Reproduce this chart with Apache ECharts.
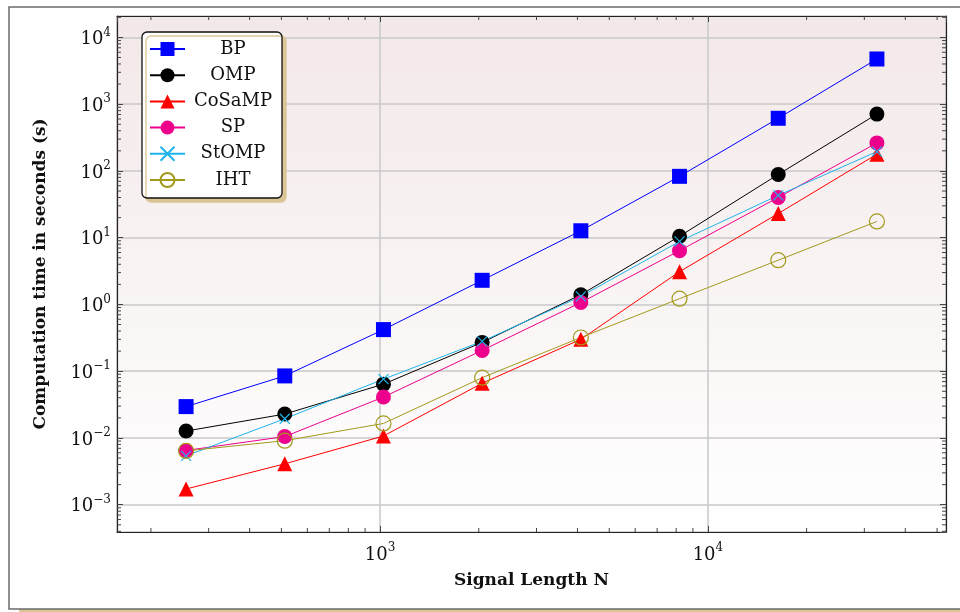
<!DOCTYPE html>
<html>
<head>
<meta charset="utf-8">
<script src="https://cdn.jsdelivr.net/npm/echarts@6/dist/echarts.min.js"></script>
<style>
html,body{margin:0;padding:0;background:#fff;}
#chart{width:960px;height:612px;}
</style>
</head>
<body>
<div id="chart"></div>
<script>
// ---- data ----
const signalLength = [256, 512, 1024, 2048, 4096, 8192, 16384, 32768];
const seriesNames = ['BP', 'OMP', 'CoSaMP', 'SP', 'StOMP', 'IHT'];
const bpTime     = [0.0295, 0.085, 0.42, 2.3, 12.7, 83, 615, 4750];
const ompTime    = [0.0127, 0.0228, 0.064, 0.27, 1.40, 10.5, 88.5, 710];
const cosampTime = [0.00172, 0.0041, 0.0107, 0.066, 0.30, 3.1, 23, 178];
const spTime     = [0.0065, 0.0105, 0.041, 0.205, 1.07, 6.4, 40, 263];
const stompTime  = [0.0054, 0.0194, 0.076, 0.28, 1.32, 8.8, 43, 195];
const ihtTime    = [0.0064, 0.0091, 0.0165, 0.08, 0.32, 1.22, 4.6, 17.5];
const xDecades = [2, 3, 4];      // minor ticks 2..9 x 10^k
const yDecades = [-4, -3, -2, -1, 0, 1, 2, 3, 4];

const FONT = 'DejaVu Serif';
const allTimes = [bpTime, ompTime, cosampTime, spTime, stompTime, ihtTime];

// axis limits: 10% enlargement in log space (pgfplots style)
function enlarged(vals) {
  const lo = Math.log10(Math.min.apply(null, vals));
  const hi = Math.log10(Math.max.apply(null, vals));
  const d = (hi - lo) * 0.1;
  return [Math.pow(10, lo - d), Math.pow(10, hi + d)];
}
const xLim = enlarged(signalLength);
const yLim = enlarged([].concat.apply([], allTimes));

function minorTicks(decades, lim) {
  const out = [];
  decades.forEach(function (k) {
    for (let m = 2; m <= 9; m++) {
      const v = m * Math.pow(10, k);
      if (v > lim[0] && v < lim[1]) out.push(v);
    }
  });
  return out;
}
const xMinor = minorTicks(xDecades, xLim);
const yMinor = minorTicks(yDecades, yLim);

function pairs(ys) { return signalLength.map(function (x, i) { return [x, ys[i]]; }); }

function expLabel(v) {
  const e = Math.log10(v);
  const r = Math.round(e);
  if (Math.abs(e - r) > 1e-6) return '';
  return '{b|10}{s|' + String(r).replace('-', '\u2212') + '}';
}
const labelRich = {
  b: { fontFamily: FONT, fontSize: 18, color: '#111', lineHeight: 22, verticalAlign: 'bottom' },
  s: { fontFamily: FONT, fontSize: 12, color: '#111', lineHeight: 12, verticalAlign: 'top' }
};

const chart = echarts.init(document.getElementById('chart'), null, { renderer: 'canvas' });

const axisLineStyle = { color: '#222', width: 1.2 };
const gridSplit = { show: true, lineStyle: { color: '#c9c9c9', width: 1.5 } };

const styles = {
  BP:     { color: '#0000ff', symbol: 'rect', size: 15 },
  OMP:    { color: '#000000', symbol: 'circle', size: 15 },
  CoSaMP: { color: '#ff0000', symbol: 'triangle', size: 15 },
  SP:     { color: '#ec008c', symbol: 'circle', size: 15 },
  StOMP:  { color: '#1fb4ec', symbol: 'path://M0,0L10,10M10,0L0,10', size: 10 },
  IHT:    { color: '#a39a1c', symbol: 'circle', size: 15, hollow: true }
};

const lineSeries = seriesNames.map(function (name, i) {
  const st = styles[name];
  const itemStyle = st.hollow
    ? { color: 'rgba(0,0,0,0)', borderColor: st.color, borderWidth: 1.2 }
    : (name === 'StOMP'
        ? { color: st.color, borderColor: st.color, borderWidth: 1.2 }
        : { color: st.color, borderWidth: 0 });
  return {
    name: name,
    type: 'line',
    xAxisIndex: 0, yAxisIndex: 0,
    data: pairs(allTimes[i]),
    symbol: st.symbol,
    symbolSize: st.size,
    showAllSymbol: true,
    color: st.color,
    lineStyle: { color: st.color, width: 1 },
    itemStyle: itemStyle,
    emphasis: { disabled: true },
    animation: false,
    z: 3
  };
});

function tickSeries(vals, isX, len) {
  return {
    type: 'custom',
    xAxisIndex: 0, yAxisIndex: 0,
    silent: true,
    animation: false,
    clip: false,
    z: 4,
    data: vals.map(function (v) { return isX ? [v, yLim[0] * 1.0001] : [xLim[0] * 1.0001, v]; }),
    renderItem: function (params, api) {
      const cs = params.coordSys;
      const p = api.coord([api.value(0), api.value(1)]);
      const st = { stroke: '#444', lineWidth: 1 };
      if (isX) {
        return { type: 'group', children: [
          { type: 'line', shape: { x1: p[0], y1: cs.y + cs.height, x2: p[0], y2: cs.y + cs.height - len }, style: st },
          { type: 'line', shape: { x1: p[0], y1: cs.y, x2: p[0], y2: cs.y + len }, style: st }
        ]};
      }
      return { type: 'group', children: [
        { type: 'line', shape: { x1: cs.x, y1: p[1], x2: cs.x + len, y2: p[1] }, style: st },
        { type: 'line', shape: { x1: cs.x + cs.width, y1: p[1], x2: cs.x + cs.width - len, y2: p[1] }, style: st }
      ]};
    }
  };
}

const option = {
  backgroundColor: 'rgba(0,0,0,0)',
  animation: false,
  graphic: [
    { type: 'rect', z: -10, shape: { x: 19, y: 10, width: 960, height: 602 }, style: { fill: '#dcc594' }, silent: true },
    { type: 'rect', z: -9, shape: { x: 9, y: 7, width: 960, height: 602 }, style: { fill: '#ffffff', stroke: '#6a6a6a', lineWidth: 1.5 }, silent: true }
  ],
  grid: {
    left: 117, right: 14, top: 16, bottom: 80,
    show: true,
    borderWidth: 0,
    backgroundColor: { type: 'linear', x: 0, y: 0, x2: 0, y2: 1,
      colorStops: [{ offset: 0, color: '#f3e8e8' }, { offset: 1, color: '#ffffff' }] }
  },
  legend: {
    data: seriesNames,
    orient: 'vertical',
    left: 142, top: 32,
    padding: [8, 6, 9, 7],
    itemWidth: 35, itemHeight: 17.5,
    itemGap: 8.2,
    itemTextGap: 5,
    backgroundColor: '#ffffff',
    borderColor: '#111',
    borderWidth: 1.3,
    borderRadius: 5,
    shadowColor: '#dcc594',
    shadowBlur: 0,
    shadowOffsetX: 4,
    shadowOffsetY: 4,
    selectedMode: false,
    formatter: function (n) { return '{t|' + n + '}'; },
    textStyle: {
      rich: { t: { fontFamily: FONT, fontSize: 18, color: '#111', width: 86, align: 'center', lineHeight: 20 } }
    }
  },
  xAxis: [
    {
      type: 'log', logBase: 10, position: 'bottom',
      min: xLim[0], max: xLim[1],
      name: 'Signal Length N', nameLocation: 'middle', nameGap: 40,
      nameTextStyle: { fontFamily: FONT, fontSize: 17, fontWeight: 'bold', color: '#111' },
      axisLine: { show: true, lineStyle: axisLineStyle },
      axisTick: { show: true, inside: true, length: 6, lineStyle: { color: '#444', width: 1 } },
      axisLabel: { show: true, margin: 10, showMinLabel: false, showMaxLabel: false, formatter: expLabel, rich: labelRich },
      splitLine: gridSplit,
      minorTick: { show: false }, minorSplitLine: { show: false }
    },
    {
      type: 'log', logBase: 10, position: 'top',
      min: xLim[0], max: xLim[1],
      axisLine: { show: true, lineStyle: axisLineStyle },
      axisTick: { show: true, inside: true, length: 6, lineStyle: { color: '#444', width: 1 } },
      axisLabel: { show: false },
      splitLine: { show: false }
    }
  ],
  yAxis: [
    {
      type: 'log', logBase: 10, position: 'left',
      min: yLim[0], max: yLim[1],
      name: 'Computation time in seconds (s)', nameLocation: 'middle', nameGap: 68,
      nameTextStyle: { fontFamily: FONT, fontSize: 17, fontWeight: 'bold', color: '#111' },
      axisLine: { show: true, lineStyle: axisLineStyle },
      axisTick: { show: true, inside: true, length: 6, lineStyle: { color: '#444', width: 1 } },
      axisLabel: { show: true, margin: 6, showMinLabel: false, showMaxLabel: false, formatter: expLabel, rich: labelRich },
      splitLine: gridSplit
    },
    {
      type: 'log', logBase: 10, position: 'right',
      min: yLim[0], max: yLim[1],
      axisLine: { show: true, lineStyle: axisLineStyle },
      axisTick: { show: true, inside: true, length: 6, lineStyle: { color: '#444', width: 1 } },
      axisLabel: { show: false },
      splitLine: { show: false }
    }
  ],
  series: lineSeries.concat([tickSeries(xMinor, true, 4), tickSeries(yMinor, false, 4)])
};

chart.setOption(option);
</script>
</body>
</html>
